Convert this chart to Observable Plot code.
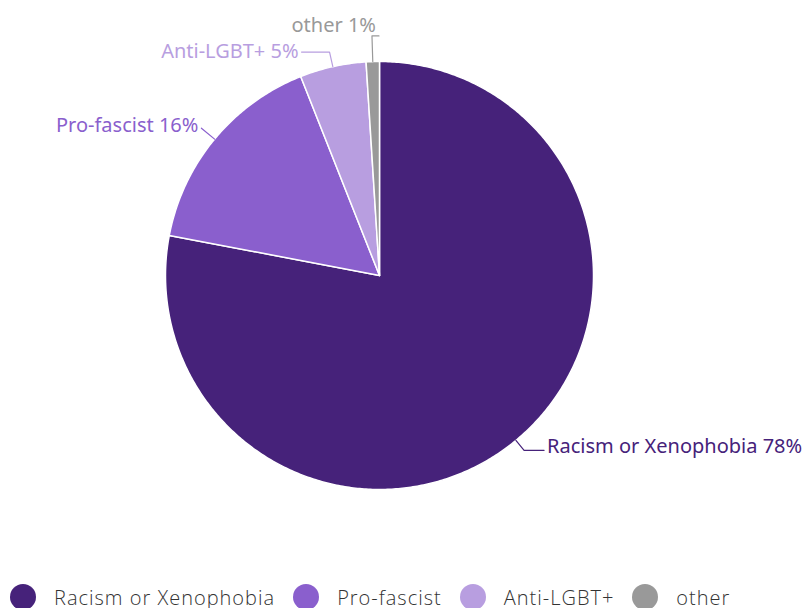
<!DOCTYPE html>
<html><head><meta charset="utf-8">
<script src="https://cdn.jsdelivr.net/npm/d3@7"></script>
<script src="https://cdn.jsdelivr.net/npm/@observablehq/plot@0.6"></script>
<style>
body{margin:0;background:#fff;font-family:"Noto Sans",sans-serif;}
#legend{display:flex;align-items:center;height:26px;padding-left:10px;font-family:"Open Sans",sans-serif;font-weight:300;letter-spacing:1px;font-size:20px;color:#333;white-space:nowrap;}
#legend .it{display:flex;align-items:center;margin-right:18px;}
#legend .sw{width:26px;height:26px;border-radius:50%;margin-right:18px;}
</style></head>
<body>
<div id="chart"></div>
<div id="legend"></div>
<script>
const categories = ["Racism or Xenophobia", "Pro-fascist", "Anti-LGBT+", "other"];
const shares = [78, 16, 5, 1];
const colors = ["#46227a", "#8a5fcd", "#b89ee0", "#999999"];

// layout
const W = 805, H = 584, cx = 379, cy = 275, R = 214;
const leaderLayout = {
  "Racism or Xenophobia": {r: 1.06, h: 20, anchor: "start", dy: -4},
  "Pro-fascist": {r: 1.08, h: 0, anchor: "end", dy: -3},
  "Anti-LGBT+": {r: 1.07, h: -28, anchor: "end", dy: 0},
  "other": {r: 1.12, h: 7, anchor: "end", dy: -10}
};

const arcs = d3.pie().sort(null).value(d => d.v)(categories.map((c, i) => ({c, v: shares[i]})));
const pt = (theta, r) => ({x: r * Math.sin(theta), y: r * Math.cos(theta)});

const slicePts = [];
const leaderPts = [];
const labels = [];
arcs.forEach(a => {
  const c = a.data.c;
  slicePts.push({cat: c, ...pt(0, 0)});
  const n = Math.max(2, Math.ceil((a.endAngle - a.startAngle) / 0.01));
  for (let k = 0; k <= n; k++) {
    const t = a.startAngle + (a.endAngle - a.startAngle) * k / n;
    slicePts.push({cat: c, ...pt(t, 1)});
  }
  slicePts.push({cat: c, ...pt(0, 0)});
  const mid = (a.startAngle + a.endAngle) / 2;
  const L = leaderLayout[c];
  const p0 = pt(mid, 1), p1 = pt(mid, L.r);
  const p2 = {x: p1.x + L.h / R, y: p1.y};
  leaderPts.push({cat: c, ...p0}, {cat: c, ...p1}, {cat: c, ...p2});
  const off = (L.anchor === "start" ? 3 : -3) / R;
  labels.push({cat: c, x: p2.x + off, y: p2.y - L.dy / R, text: `${c} ${a.data.v}%`, anchor: L.anchor});
});

const textOpts = anchor => ({filter: d => d.anchor === anchor, x: "x", y: "y", text: "text", fill: "cat",
  textAnchor: anchor, fontSize: 20, fontFamily: "Noto Sans", lineAnchor: "middle"});

const chart = Plot.plot({
  width: W, height: H, margin: 0,
  style: {overflow: "visible", background: "white"},
  x: {domain: [-cx / R, (W - cx) / R], axis: null},
  y: {domain: [-(H - cy) / R, cy / R], axis: null},
  color: {domain: categories, range: colors},
  marks: [
    Plot.line(slicePts, {x: "x", y: "y", z: "cat", fill: "cat", stroke: "white", strokeWidth: 1.5, curve: "linear"}),
    Plot.line(leaderPts, {x: "x", y: "y", z: "cat", stroke: "cat", strokeWidth: 1.2}),
    Plot.text(labels, textOpts("start")),
    Plot.text(labels, textOpts("end"))
  ]
});
document.getElementById("chart").append(chart);

const lg = document.getElementById("legend");
categories.forEach((c, i) => {
  const it = document.createElement("div"); it.className = "it";
  const sw = document.createElement("div"); sw.className = "sw"; sw.style.background = colors[i];
  const tx = document.createElement("span"); tx.textContent = c;
  it.append(sw, tx); lg.append(it);
});
</script>
</body></html>
